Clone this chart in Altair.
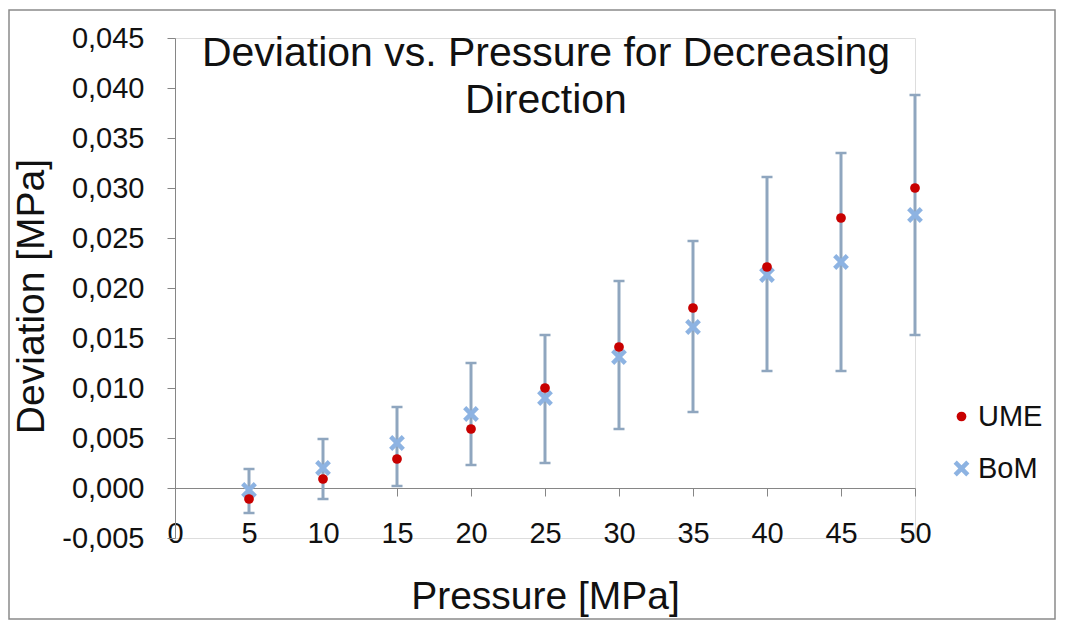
import altair as alt
import pandas as pd

# ---- data ----
pressure = [5, 10, 15, 20, 25, 30, 35, 40, 45, 50]
ume = [-0.0011, 0.0009, 0.0029, 0.0059, 0.0100, 0.0141, 0.0180, 0.0221, 0.0270, 0.0300]
bom = [-0.0002, 0.0020, 0.0045, 0.0074, 0.0090, 0.0131, 0.0161, 0.0213, 0.0226, 0.0273]
err_low = [-0.0025, -0.0011, 0.0002, 0.0023, 0.0025, 0.0059, 0.0076, 0.0117, 0.0117, 0.0153]
err_high = [0.0019, 0.0049, 0.0081, 0.0125, 0.0153, 0.0207, 0.0247, 0.0311, 0.0335, 0.0393]
series_names = ["UME", "BoM"]
x_ticks = [0, 5, 10, 15, 20, 25, 30, 35, 40, 45, 50]
y_ticks = [-0.005, 0.0, 0.005, 0.010, 0.015, 0.020, 0.025, 0.030, 0.035, 0.040, 0.045]
title_lines = ["Deviation vs. Pressure for Decreasing", "Direction"]

FONT = "Liberation Sans"
RED = "#C80000"
BLUE = "#8DB3E2"
ERR = "#8FA6BF"
AXIS = "#868686"
X_SHAPE = "M-1,-0.6L-0.6,-1L0,-0.4L0.6,-1L1,-0.6L0.4,0L1,0.6L0.6,1L0,0.4L-0.6,1L-1,0.6L-0.4,0Z"

err_df = pd.DataFrame({"pressure": pressure, "low": err_low, "high": err_high, "bom": bom})
pts = pd.DataFrame(
    [{"pressure": p, "series": "BoM", "value": v} for p, v in zip(pressure, bom)]
    + [{"pressure": p, "series": "UME", "value": v} for p, v in zip(pressure, ume)]
)

xscale = alt.Scale(domain=[0, 50], nice=False, zero=False)
yscale = alt.Scale(domain=[-0.005, 0.045], nice=False, zero=False)

x_axis = alt.Axis(
    values=x_ticks, offset=-50, tickSize=8, labelPadding=23, labelFontSize=29,
    labelFont=FONT, labelColor="#111111", labelFlush=False, grid=False,
    domainColor=AXIS, tickColor=AXIS, title="Pressure [MPa]", titleFont=FONT,
    titleFontSize=39, titleFontWeight="normal", titleColor="#111111",
    titleY=120, titleBaseline="alphabetic",
)
y_axis = alt.Axis(
    values=y_ticks, tickSize=8, labelPadding=23, labelFontSize=29, labelFont=FONT,
    labelColor="#111111", grid=False, domainColor=AXIS, tickColor=AXIS,
    labelExpr="replace(replace(format(datum.value, '.3f'), '.', ','), '\u2212', '-')",
    title="Deviation [MPa]", titleFont=FONT, titleFontSize=39,
    titleFontWeight="normal", titleColor="#111111", titleAngle=270,
    titleX=-132, titleY=258, titleAlign="center", titleBaseline="alphabetic",
)

frame = alt.Chart(alt.Data(values=[{}])).mark_rect(
    fill=None, stroke="#8a8a8a", strokeWidth=1.5
).encode(
    x=alt.value(-166), x2=alt.value(880), y=alt.value(-28), y2=alt.value(581)
)

title = alt.Chart(alt.Data(values=[{}])).mark_text(
    text=title_lines, font=FONT, fontSize=41, color="#111111", align="center",
    baseline="alphabetic", lineHeight=47,
).encode(x=alt.value(371), y=alt.value(28))

bars = alt.Chart(err_df).mark_rule(color=ERR, strokeWidth=3).encode(
    x=alt.X("pressure:Q", scale=xscale, axis=x_axis),
    y=alt.Y("low:Q", scale=yscale, axis=y_axis),
    y2="high:Q",
)

caps = alt.Chart(err_df).transform_fold(["low", "high"], as_=["end", "ev"]).mark_tick(
    color=ERR, orient="horizontal", size=11, thickness=2.5, opacity=1
).encode(
    x=alt.X("pressure:Q", scale=xscale),
    y=alt.Y("ev:Q", scale=yscale),
)

points = alt.Chart(pts).mark_point(filled=True, opacity=1, strokeWidth=0).encode(
    x=alt.X("pressure:Q", scale=xscale),
    y=alt.Y("value:Q", scale=yscale),
    color=alt.Color("series:N", scale=alt.Scale(domain=series_names, range=[RED, BLUE]),
                    legend=alt.Legend(title=None, orient="none", legendX=772, legendY=364,
                                      labelFont=FONT, labelFontSize=29, labelColor="#111111",
                                      labelOffset=2, rowPadding=22, padding=0)),
    shape=alt.Shape("series:N", scale=alt.Scale(domain=series_names, range=["circle", X_SHAPE])),
    size=alt.Size("series:N", scale=alt.Scale(domain=series_names, range=[95, 250])),
)

chart = alt.layer(frame, bars, caps, points, title).properties(
    width=740, height=500,
    autosize=alt.AutoSizeParams(type="none"),
    padding={"left": 167, "top": 30, "right": 141, "bottom": 82},
).configure_view(stroke=None).configure(background="white")

chart.save("out.html", embed_options={"renderer": "svg", "actions": False})
